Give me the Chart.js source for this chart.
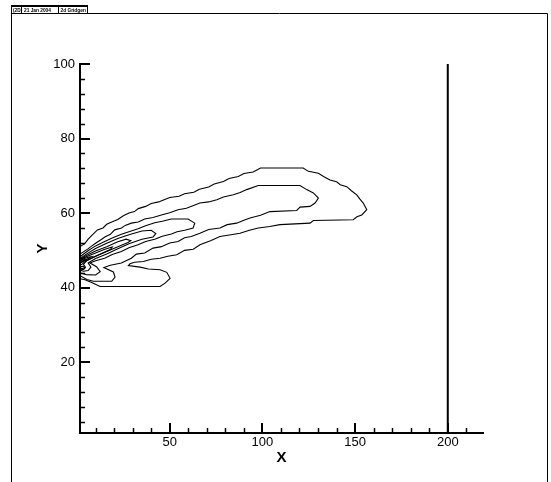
<!DOCTYPE html>
<html>
<head>
<meta charset="utf-8">
<script src="https://cdn.jsdelivr.net/npm/chart.js@4.4.1/dist/chart.umd.min.js"></script>
<style>
html,body{margin:0;padding:0;background:#fff;}
canvas{display:block;}
</style>
</head>
<body>
<canvas id="c" width="551" height="482"></canvas>
<script>
// ---- axis data ----
const xRange = [1.6, 219];
const yRange = [1, 100];
const xTickLabels = [50, 100, 150, 200];
const yTickLabels = [20, 40, 60, 80, 100];
const xMinorTicks = [10, 20, 30, 40, 60, 70, 80, 90, 110, 120, 130, 140, 160, 170, 180, 190, 210];
const yMinorTicks = [4, 8, 12, 16, 24, 28, 32, 36, 44, 48, 52, 56, 64, 68, 72, 76, 84, 88, 92, 96];
const headerTexts = ['(2D)', '21 Jan 2004', '2d Gridgen'];

// ---- wall line at x = 200 ----
const wallX = [200, 200];
const wallY = [1, 100];

// ---- contour lines (x, y pairs) ----
const contourA = [[1.6,51.0],[4.2,51.8],[6,53],[8,54],[11,55.5],[14,56],[16,57],[19,57.7],[22,58.3],[25,59.3],[28,60],[31,60.4],[33,61.2],[37,61.8],[40,62.6],[44,63],[47,63.6],[50,64.2],[55,64.5],[58,65.2],[63,65.6],[66,66.4],[71,67],[74,67.8],[79,68.5],[82,69.3],[87,69.8],[90,70.6],[95,71],[99,72.1],[122,72.1],[124.8,71.2],[130.2,70.7],[133,69.8],[136.5,68.9],[140,68.4],[142,67.6],[145.5,67.1],[148,66],[150.9,64.9],[152.5,63.8],[154.4,62.7],[156.3,60.9],[153.6,59.5],[151,59],[149,58.2],[127.5,58.0],[125.7,57.3],[109.5,56.9],[104,56.4],[97.8,56.0],[93,55.4],[87.9,54.6],[83,54.2],[77.1,53.7],[72,52.6],[66.3,51.5],[62.7,50.3],[58,50],[53.8,48.8],[49,48.4],[44.8,47.9],[40,47.6],[35.8,47.0],[31,46.8],[28.6,46.4],[27.7,45.9],[34.0,45.5],[38.5,45.0],[44.8,44.8],[48.4,44.1],[50.2,42.5],[47.5,41.2],[44.8,40.3],[12.4,40.3],[7.9,41.4],[4.3,42.1],[1.6,42.4]];
const contourB = [[1.6,49.0],[5.9,50.4],[8,51.2],[10,51.9],[13.1,52.9],[15,53.6],[18,54.3],[20.3,55.5],[24,56],[26,56.7],[29.3,57.3],[33,57.6],[36.5,58.4],[41,58.8],[45.5,59.5],[50,60.1],[54.5,60.9],[59,61.3],[63.5,62.2],[66.3,62.7],[71,63],[75.4,63.6],[79,64.3],[84.3,64.9],[88,65.5],[91.5,66.3],[97.8,67.4],[120.3,67.4],[123.9,66.3],[127.5,65.4],[130.2,64.0],[128.4,62.7],[125.7,61.8],[120.3,61.6],[118.5,60.7],[104.1,60.4],[99,59.4],[93.3,58.7],[90,58.1],[86.1,57.3],[81,56.9],[77.1,56.0],[71,55.6],[66.3,54.6],[61.6,53.7],[58,53.4],[54.5,52.4],[50,52],[45.5,51.0],[41,50.6],[36.5,49.3],[32,49],[29.3,47.9],[23.9,46.6],[18,46],[14.5,45.4],[19.6,44.2],[20.5,42.8],[18.7,41.7],[8.8,41.7],[5.3,42.2],[1.6,43.2]];
const contourC = [[1.6,48.3],[5.9,49.9],[10,51.2],[14.9,52.4],[19,53.3],[23.9,54.3],[28,55.0],[32.9,55.8],[37,56.6],[41.9,57.4],[46,57.8],[50.9,58.4],[59.9,58.4],[63.5,57.3],[62.6,56.0],[58.1,55.4],[54,55],[50.9,54.4],[46,53.8],[41.9,53.0],[37,52.4],[32.9,51.5],[28,50.7],[23.9,49.7],[19,48.9],[14.9,47.9],[10,47.2],[7,46.6],[10.5,45.6],[12.5,44.3],[10,43.4],[5,43.5],[1.6,44.0]];
const contourD = [[1.6,47.8],[5,49.0],[10,50.5],[16,51.9],[22,53.2],[28,54.2],[35,55.2],[40,55.4],[42.5,54.5],[41,53.6],[35,53.0],[28,51.8],[22,50.4],[16,49.0],[10,47.8],[6,46.6],[7.5,45.5],[6,44.6],[3.5,44.4],[1.6,44.7]];
const contourE = [[1.6,47.6],[5,48.6],[10,49.8],[16,51.0],[22,52.3],[26.5,53.0],[29,52.6],[27.5,52.1],[22,51.0],[16,49.7],[10,48.4],[5,47.2],[3.5,46.2],[4.5,45.5],[3,45.1],[1.6,45.2]];
const contourF = [[1.6,47.5],[5,48.3],[10,49.3],[15,50.3],[19,50.9],[18,50.2],[12,48.9],[7,47.7],[4,46.9],[2.5,46.2],[1.6,46.0]];
const contourG = [[1.6,47.3],[4,47.8],[6.5,48.2],[8,48.3],[7,48.0],[5,47.5],[3.5,47.1],[2.2,46.7],[1.6,46.7]];
const contourH = [[1.6,47.15],[3,47.4],[5,47.6],[4,47.25],[2.5,46.95],[1.6,46.9]];
const contourI = [[1.6,45.6],[3.2,45.7],[4.4,45.3],[3.6,44.9],[1.6,44.95]];
const contours = [contourA, contourB, contourC, contourD, contourE, contourF, contourG, contourH, contourI];

const FONT = "'Liberation Sans', Arial, Helvetica, sans-serif";

const datasets = contours.map(c => ({
  data: c.map(p => ({x: p[0], y: p[1]})),
  showLine: true, fill: false, pointRadius: 0, borderColor: '#000', borderWidth: 1.1, tension: 0
}));
datasets.push({
  data: wallX.map((x, i) => ({x: x, y: wallY[i]})),
  showLine: true, fill: false, pointRadius: 0, borderColor: '#000', borderWidth: 2, tension: 0
});

const framePlugin = {
  id: 'frame',
  beforeDraw(chart) {
    const ctx = chart.ctx;
    ctx.save();
    ctx.fillStyle = '#fff';
    ctx.fillRect(0, 0, chart.width, chart.height);
    ctx.strokeStyle = '#000';
    // main frame
    ctx.lineWidth = 1;
    ctx.beginPath();
    ctx.moveTo(11.5, 482); ctx.lineTo(11.5, 13.5); ctx.lineTo(547.5, 13.5); ctx.lineTo(547.5, 482);
    ctx.stroke();
    // header box
    ctx.lineWidth = 2;
    ctx.beginPath();
    ctx.moveTo(11, 6); ctx.lineTo(88, 6);
    ctx.stroke();
    ctx.lineWidth = 1;
    ctx.beginPath();
    ctx.moveTo(11.5, 5); ctx.lineTo(11.5, 14);
    ctx.moveTo(87.5, 5); ctx.lineTo(87.5, 14);
    ctx.moveTo(21.5, 6); ctx.lineTo(21.5, 13.5);
    ctx.moveTo(58.5, 6); ctx.lineTo(58.5, 13.5);
    ctx.stroke();
    ctx.fillStyle = '#000';
    ctx.font = 'bold 4.8px ' + FONT;
    ctx.textBaseline = 'alphabetic';
    const xs = [13, 24, 60.5];
    headerTexts.forEach((t, i) => ctx.fillText(t, xs[i], 11.8));
    ctx.restore();
  },
  afterDraw(chart) {
    const ctx = chart.ctx;
    const sx = chart.scales.x, sy = chart.scales.y;
    const {left, bottom} = chart.chartArea;
    ctx.save();
    ctx.strokeStyle = '#000';
    ctx.lineWidth = 1.5;
    ctx.beginPath();
    xMinorTicks.forEach(v => { const p = Math.round(sx.getPixelForValue(v)) + 0.5; ctx.moveTo(p, bottom); ctx.lineTo(p, bottom - 5); });
    yMinorTicks.forEach(v => { const p = Math.round(sy.getPixelForValue(v)) + 0.5; ctx.moveTo(left, p); ctx.lineTo(left + 5, p); });
    ctx.stroke();
    ctx.lineWidth = 2;
    ctx.beginPath();
    xTickLabels.forEach(v => { const p = Math.round(sx.getPixelForValue(v)); ctx.moveTo(p, bottom); ctx.lineTo(p, bottom - 10); });
    yTickLabels.forEach(v => { const p = Math.round(sy.getPixelForValue(v)); ctx.moveTo(left, p); ctx.lineTo(left + 10, p); });
    ctx.stroke();
    ctx.restore();
  }
};

new Chart(document.getElementById('c'), {
  type: 'scatter',
  data: { datasets },
  options: {
    responsive: false,
    animation: false,
    events: [],
    layout: { padding: { left: 12, right: 68, top: 64, bottom: 0 } },
    plugins: { legend: { display: false }, tooltip: { enabled: false }, title: { display: false } },
    scales: {
      x: {
        type: 'linear', position: 'bottom', min: xRange[0], max: xRange[1],
        afterFit: s => { s.height = 49; },
        afterBuildTicks: s => { s.ticks = xTickLabels.map(v => ({value: v})); },
        grid: { display: false, drawTicks: false },
        border: { display: true, color: '#000', width: 2 },
        ticks: { color: '#000', padding: 2, font: { family: FONT, size: 13 }, maxRotation: 0, autoSkip: false, callback: v => String(v) },
        title: { display: true, text: 'X', color: '#000', font: { family: FONT, size: 15, weight: 'bold' }, padding: { top: 0, bottom: 15 } }
      },
      y: {
        type: 'linear', position: 'left', min: yRange[0], max: yRange[1],
        afterFit: s => { s.width = 68; },
        afterBuildTicks: s => { s.ticks = yTickLabels.map(v => ({value: v})); },
        grid: { display: false, drawTicks: false },
        border: { display: true, color: '#000', width: 2 },
        ticks: { color: '#000', padding: 5, font: { family: FONT, size: 13 }, autoSkip: false, callback: v => String(v) },
        title: { display: true, text: 'Y', color: '#000', font: { family: FONT, size: 15, weight: 'bold' }, padding: { top: 22, bottom: 0 } }
      }
    }
  },
  plugins: [framePlugin]
});
</script>
</body>
</html>
